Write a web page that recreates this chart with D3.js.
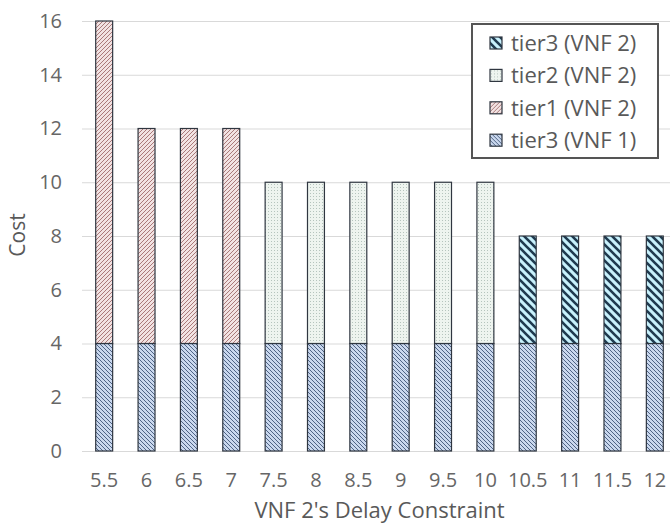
<!DOCTYPE html>
<html>
<head>
<meta charset="utf-8">
<script src="https://cdn.jsdelivr.net/npm/d3@7"></script>
<style>
  body { margin: 0; background: #fff; }
  svg { display: block; font-family: "Open Sans", sans-serif; }
</style>
</head>
<body>
<svg id="chart" width="670" height="527"></svg>
<script>
// delay constraint of VNF 2
var categories = ["5.5","6","6.5","7","7.5","8","8.5","9","9.5","10","10.5","11","11.5","12"];
var tier3Vnf1 = [4,4,4,4,4,4,4,4,4,4,4,4,4,4];
var tier1Vnf2 = [12,8,8,8,0,0,0,0,0,0,0,0,0,0];
var tier2Vnf2 = [0,0,0,0,6,6,6,6,6,6,0,0,0,0];
var tier3Vnf2 = [0,0,0,0,0,0,0,0,0,0,4,4,4,4];
var yTicks = [0,2,4,6,8,10,12,14,16];

var seriesKeys = ["t3v1","t1v2","t2v2","t3v2"];
var seriesNames = {t3v1:"tier3 (VNF 1)", t1v2:"tier1 (VNF 2)", t2v2:"tier2 (VNF 2)", t3v2:"tier3 (VNF 2)"};
var legendOrder = ["t3v2","t2v2","t1v2","t3v1"];

var rows = categories.map(function(c,i){
  return {cat:c, t3v1:tier3Vnf1[i], t1v2:tier1Vnf2[i], t2v2:tier2Vnf2[i], t3v2:tier3Vnf2[i]};
});

var svg = d3.select("#chart");
var plotLeft = 83, plotRight = 676, plotTop = 21, plotBottom = 451;

var x = d3.scaleBand().domain(categories).range([plotLeft,plotRight]).paddingInner(0.6).paddingOuter(0.3);
var y = d3.scaleLinear().domain([0,16]).range([plotBottom,plotTop]);

// patterns
var defs = svg.append("defs");

var p1 = defs.append("pattern").attr("id","p_t3v1").attr("patternUnits","userSpaceOnUse")
  .attr("width",4).attr("height",4);
p1.append("rect").attr("width",4).attr("height",4).attr("fill","#cad8ee");
p1.append("path").attr("d","M0,0L4,4M-1,3L1,5M3,-1L5,1").attr("stroke","#4f6485").attr("stroke-width",1);

var p2 = defs.append("pattern").attr("id","p_t1v2").attr("patternUnits","userSpaceOnUse")
  .attr("width",4).attr("height",4);
p2.append("rect").attr("width",4).attr("height",4).attr("fill","#f2e3e3");
p2.append("path").attr("d","M0,4L4,0M-1,1L1,-1M3,5L5,3").attr("stroke","#aa7a7a").attr("stroke-width",1);

var p3 = defs.append("pattern").attr("id","p_t2v2").attr("patternUnits","userSpaceOnUse")
  .attr("width",3).attr("height",3);
p3.append("rect").attr("width",3).attr("height",3).attr("fill","#eef4ef");
p3.append("rect").attr("x",1).attr("y",1).attr("width",1).attr("height",1).attr("fill","#b5c4bd");

var p4 = defs.append("pattern").attr("id","p_t3v2").attr("patternUnits","userSpaceOnUse")
  .attr("width",8).attr("height",8);
p4.append("rect").attr("width",8).attr("height",8).attr("fill","#c8f1fc");
p4.append("path").attr("d","M0,0L8,8M-2,6L2,10M6,-2L10,2").attr("stroke","#1f3a4f").attr("stroke-width",2.6);

// gridlines
svg.append("g")
  .attr("transform","translate(" + (plotLeft-1) + ",0)")
  .call(d3.axisLeft(y).tickValues(yTicks).tickSize(-(plotRight-plotLeft+1)).tickFormat(""))
  .call(function(g){
    g.select(".domain").remove();
    g.selectAll("line").attr("stroke","#d9d9d9").attr("stroke-width",1);
  });

// y axis labels
svg.append("g")
  .attr("transform","translate(" + plotLeft + ",0)")
  .call(d3.axisLeft(y).tickValues(yTicks).tickSize(0).tickPadding(21))
  .call(function(g){
    g.select(".domain").remove();
    g.selectAll("text").attr("font-size",20).attr("fill","#666").attr("font-family","Open Sans, sans-serif");
  });

// x axis labels
svg.append("g")
  .attr("transform","translate(0," + plotBottom + ")")
  .call(d3.axisBottom(x).tickSize(0).tickPadding(22))
  .call(function(g){
    g.select(".domain").remove();
    g.selectAll("text").attr("font-size",20).attr("fill","#666").attr("font-family","Open Sans, sans-serif");
  });

// bars
var stacked = d3.stack().keys(seriesKeys)(rows);

var layer = svg.append("g").selectAll("g")
  .data(stacked)
  .enter()
  .append("g")
  .attr("fill",function(d){ return "url(#p_" + d.key + ")"; });

layer.selectAll("rect")
  .data(function(d){ return d.filter(function(s){ return s[1] > s[0]; }); })
  .enter()
  .append("rect")
  .attr("x",function(d){ return x(d.data.cat); })
  .attr("y",function(d){ return y(d[1]); })
  .attr("width",x.bandwidth())
  .attr("height",function(d){ return y(d[0]) - y(d[1]); })
  .attr("stroke","#2f3640")
  .attr("stroke-width",1.2);

// axis titles
svg.append("text")
  .attr("x",(plotLeft+plotRight)/2)
  .attr("y",518)
  .attr("text-anchor","middle")
  .attr("font-size",22)
  .attr("fill","#595959")
  .text("VNF 2's Delay Constraint");

svg.append("text")
  .attr("transform","translate(25,235) rotate(-90)")
  .attr("text-anchor","middle")
  .attr("font-size",21)
  .attr("fill","#595959")
  .text("Cost");

// legend
var lg = svg.append("g");
lg.append("rect")
  .attr("x",472).attr("y",24).attr("width",186).attr("height",134)
  .attr("fill","#fff").attr("stroke","#555").attr("stroke-width",2);

var item = lg.selectAll("g.item")
  .data(legendOrder)
  .enter()
  .append("g")
  .attr("class","item")
  .attr("transform",function(d,i){ return "translate(490," + (43 + i*32.4) + ")"; });

item.append("rect")
  .attr("x",0).attr("y",-6).attr("width",12).attr("height",12)
  .attr("fill",function(d){ return "url(#p_" + d + ")"; })
  .attr("stroke","#2f3640").attr("stroke-width",1.2);

item.append("text")
  .attr("x",21)
  .attr("dy","0.35em")
  .attr("font-size",22)
  .attr("fill","#595959")
  .text(function(d){ return seriesNames[d]; });
</script>
</body>
</html>
